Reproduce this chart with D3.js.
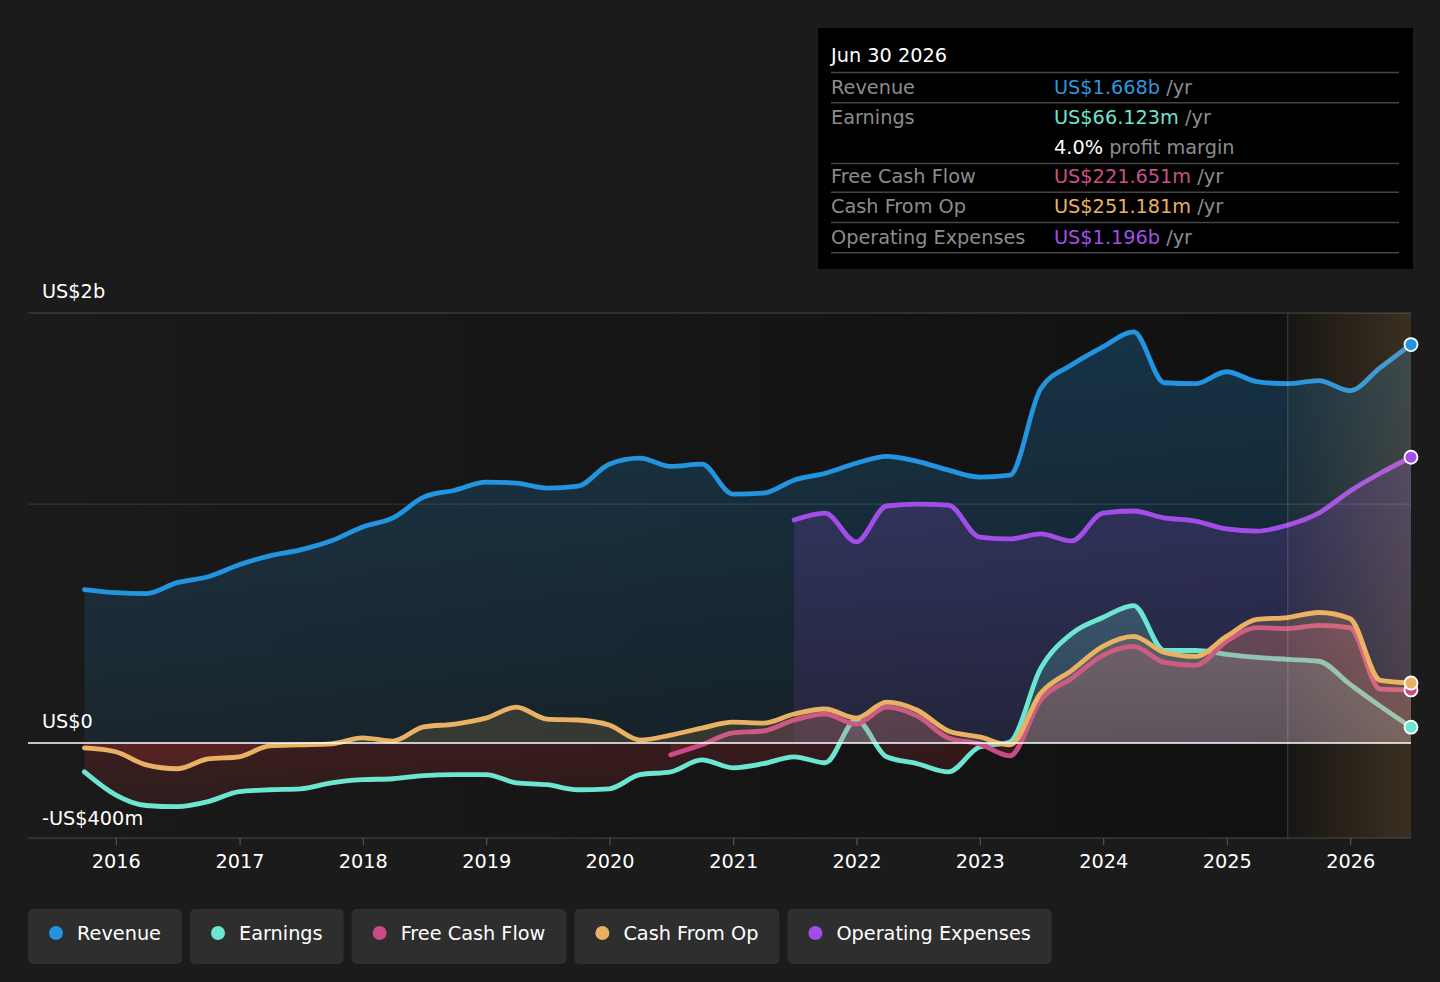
<!DOCTYPE html>
<html>
<head>
<meta charset="utf-8">
<script src="https://cdn.jsdelivr.net/npm/d3@7"></script>
<style>
  body { margin: 0; background: #1b1b1b; }
  svg { display: block; font-family: "DejaVu Sans", sans-serif; }
</style>
</head>
<body>
<svg id="chart" width="1440" height="982"></svg>
<script>
// quarterly periods (trailing twelve months), values in US$ billions
const quarters = [
  "2015-09-30","2015-12-31","2016-03-31","2016-06-30","2016-09-30","2016-12-31",
  "2017-03-31","2017-06-30","2017-09-30","2017-12-31","2018-03-31","2018-06-30",
  "2018-09-30","2018-12-31","2019-03-31","2019-06-30","2019-09-30","2019-12-31",
  "2020-03-31","2020-06-30","2020-09-30","2020-12-31","2021-03-31","2021-06-30",
  "2021-09-30","2021-12-31","2022-03-31","2022-06-30","2022-09-30","2022-12-31",
  "2023-03-31","2023-06-30","2023-09-30","2023-12-31","2024-03-31","2024-06-30",
  "2024-09-30","2024-12-31","2025-03-31","2025-06-30","2025-09-30","2025-12-31",
  "2026-03-31","2026-06-30"
];
const revenue = [
  0.642, 0.629, 0.625, 0.671, 0.696, 0.746, 0.783, 0.808, 0.846, 0.904, 0.942, 1.029,
  1.058, 1.092, 1.088, 1.067, 1.075, 1.167, 1.192, 1.158, 1.167, 1.042, 1.046, 1.100,
  1.129, 1.171, 1.200, 1.179, 1.142, 1.113, 1.121, 1.483, 1.583, 1.658, 1.721, 1.508,
  1.504, 1.554, 1.513, 1.504, 1.517, 1.475, 1.571, 1.668
];
const earnings = [
  -0.121, -0.217, -0.262, -0.267, -0.246, -0.204, -0.196, -0.192, -0.167, -0.154, -0.150, -0.137,
  -0.133, -0.133, -0.167, -0.175, -0.196, -0.192, -0.133, -0.121, -0.071, -0.104, -0.087, -0.058,
  -0.083, 0.096, -0.058, -0.087, -0.121, -0.017, 0.004, 0.312, 0.458, 0.525, 0.575, 0.387,
  0.387, 0.371, 0.358, 0.350, 0.342, 0.246, 0.154, 0.066
];
const freeCashFlow = [
  null, null, null, null, null, null, null, null, null, null, null, null,
  null, null, null, null, null, null, null, -0.050, -0.008, 0.042, 0.050, 0.096,
  0.121, 0.079, 0.150, 0.112, 0.021, -0.004, -0.054, 0.179, 0.271, 0.367, 0.404, 0.337,
  0.325, 0.425, 0.483, 0.479, 0.492, 0.483, 0.225, 0.222
];
const cashFromOp = [
  -0.021, -0.037, -0.092, -0.108, -0.067, -0.058, -0.012, -0.008, -0.004, 0.021, 0.008, 0.067,
  0.079, 0.104, 0.150, 0.100, 0.096, 0.075, 0.012, 0.033, 0.062, 0.087, 0.083, 0.121,
  0.142, 0.104, 0.171, 0.137, 0.050, 0.025, -0.008, 0.208, 0.304, 0.404, 0.446, 0.379,
  0.362, 0.446, 0.517, 0.525, 0.546, 0.521, 0.262, 0.251
];
const operatingExpenses = [
  null, null, null, null, null, null, null, null, null, null, null, null,
  null, null, null, null, null, null, null, null, null, null, null, 0.933,
  0.962, 0.842, 0.992, 1.000, 0.996, 0.862, 0.854, 0.875, 0.846, 0.962, 0.971, 0.942,
  0.929, 0.896, 0.887, 0.912, 0.962, 1.054, 1.129, 1.196
];

const tickYears = [2016, 2017, 2018, 2019, 2020, 2021, 2022, 2023, 2024, 2025, 2026];
const yDomain = [-0.398, 1.8];
const yLabelTop = "US$2b", yLabelZero = "US$0", yLabelBottom = "-US$400m";
const forecastStart = "2025-06-30";

const tipTitle = "Jun 30 2026";
const tipLabels = ["Revenue", "Earnings", "", "Free Cash Flow", "Cash From Op", "Operating Expenses"];
const tipValues = ["US$1.668b", "US$66.123m", "4.0%", "US$221.651m", "US$251.181m", "US$1.196b"];
const tipUnits = [" /yr", " /yr", " profit margin", " /yr", " /yr", " /yr"];

const parse = d3.timeParse("%Y-%m-%d");
const dates = quarters.map(parse);

// draw order: revenue, opex, earnings, fcf, cash from op
const series = [
  {name: "Revenue", values: revenue, color: "#2394df", top: 0.26, bottom: 0.10},
  {name: "Operating Expenses", values: operatingExpenses, color: "#a24de8", top: 0.26, bottom: 0.10},
  {name: "Earnings", values: earnings, color: "#6ce5d1", top: 0.34, bottom: 0.16},
  {name: "Free Cash Flow", values: freeCashFlow, color: "#c84b88", top: 0.34, bottom: 0.16},
  {name: "Cash From Op", values: cashFromOp, color: "#e9b163", top: 0.30, bottom: 0.14}
];
const legendOrder = ["Revenue", "Earnings", "Free Cash Flow", "Cash From Op", "Operating Expenses"];
const tipColors = ["#2f96dc", "#6fe3d1", "#ffffff", "#c8508a", "#e9b264", "#a050e6"];

const plot = {left: 28, right: 1411, top: 313, bottom: 838};
const fontSize = "19.3px";

const svg = d3.select("#chart");
const defs = svg.append("defs");

const x = d3.scaleTime()
    .domain([new Date(2015, 3, 16), parse("2026-06-30")])
    .range([plot.left, plot.right]);
const y = d3.scaleLinear()
    .domain(yDomain)
    .range([plot.bottom, plot.top]);
const xf = x(parse(forecastStart));

// backgrounds
const bgGrad = defs.append("linearGradient").attr("id", "bgGrad")
    .attr("x1", 0).attr("x2", 1).attr("y1", 0).attr("y2", 0);
bgGrad.append("stop").attr("offset", 0).attr("stop-color", "#1a1a1a");
bgGrad.append("stop").attr("offset", 1).attr("stop-color", "#101010");
svg.append("rect")
    .attr("x", plot.left).attr("y", plot.top)
    .attr("width", plot.right - plot.left).attr("height", plot.bottom - plot.top)
    .attr("fill", "url(#bgGrad)");

// grid
svg.append("line")
    .attr("x1", plot.left).attr("x2", plot.right)
    .attr("y1", y(yDomain[1])).attr("y2", y(yDomain[1]))
    .attr("stroke", "#484848").attr("stroke-width", 1.2);
svg.append("line")
    .attr("x1", plot.left).attr("x2", plot.right)
    .attr("y1", y(1)).attr("y2", y(1))
    .attr("stroke", "#333").attr("stroke-width", 1.2);

// clip regions above / below zero
defs.append("clipPath").attr("id", "clipPos").append("rect")
    .attr("x", plot.left).attr("y", plot.top)
    .attr("width", plot.right - plot.left).attr("height", y(0) - plot.top);
defs.append("clipPath").attr("id", "clipNeg").append("rect")
    .attr("x", plot.left).attr("y", y(0))
    .attr("width", plot.right - plot.left).attr("height", plot.bottom - y(0));

const negGrad = defs.append("linearGradient").attr("id", "negGrad")
    .attr("gradientUnits", "userSpaceOnUse")
    .attr("x1", 0).attr("x2", 0).attr("y1", y(0)).attr("y2", plot.bottom);
negGrad.append("stop").attr("offset", 0).attr("stop-color", "#e0383c").attr("stop-opacity", 0.17);
negGrad.append("stop").attr("offset", 1).attr("stop-color", "#e0383c").attr("stop-opacity", 0.07);

const area = d3.area()
    .defined(d => d.v != null)
    .x(d => x(d.date))
    .y0(y(0))
    .y1(d => y(d.v))
    .curve(d3.curveMonotoneX);
const line = d3.line()
    .defined(d => d.v != null)
    .x(d => x(d.date))
    .y(d => y(d.v))
    .curve(d3.curveMonotoneX);

const seriesGroup = svg.append("g");
series.forEach((s, i) => {
  const data = dates.map((date, j) => ({date, v: s.values[j]}));
  const g = defs.append("linearGradient").attr("id", "grad" + i)
      .attr("gradientUnits", "userSpaceOnUse")
      .attr("x1", 0).attr("x2", 0).attr("y1", plot.top).attr("y2", y(0));
  g.append("stop").attr("offset", 0).attr("stop-color", s.color).attr("stop-opacity", s.top);
  g.append("stop").attr("offset", 1).attr("stop-color", s.color).attr("stop-opacity", s.bottom);

  seriesGroup.append("path")
      .datum(data)
      .attr("d", area)
      .attr("fill", `url(#grad${i})`)
      .attr("clip-path", "url(#clipPos)");
  seriesGroup.append("path")
      .datum(data)
      .attr("d", area)
      .attr("fill", "url(#negGrad)")
      .attr("clip-path", "url(#clipNeg)");
  seriesGroup.append("path")
      .datum(data)
      .attr("d", line)
      .attr("fill", "none")
      .attr("stroke", s.color)
      .attr("stroke-width", 4.8)
      .attr("stroke-linejoin", "round")
      .attr("stroke-linecap", "round");
  s.last = data[data.length - 1];
});

// forecast overlay
const fcGrad = defs.append("linearGradient").attr("id", "fcGrad")
    .attr("x1", 0).attr("x2", 1).attr("y1", 0).attr("y2", 0);
fcGrad.append("stop").attr("offset", 0).attr("stop-color", "#ffbe6e").attr("stop-opacity", 0.03);
fcGrad.append("stop").attr("offset", 1).attr("stop-color", "#ffbe6e").attr("stop-opacity", 0.18);
svg.append("rect")
    .attr("x", xf).attr("y", plot.top)
    .attr("width", plot.right - xf).attr("height", plot.bottom - plot.top)
    .attr("fill", "url(#fcGrad)");
svg.append("line")
    .attr("x1", xf).attr("x2", xf)
    .attr("y1", plot.top).attr("y2", plot.bottom)
    .attr("stroke", "#ffffff").attr("stroke-opacity", 0.13).attr("stroke-width", 1.5);

// zero line
svg.append("line")
    .attr("x1", plot.left).attr("x2", plot.right)
    .attr("y1", y(0)).attr("y2", y(0))
    .attr("stroke", "#ffffff").attr("stroke-width", 1.5);

// end points
svg.append("g").selectAll("circle")
  .data(series)
  .join("circle")
    .attr("cx", s => x(s.last.date))
    .attr("cy", s => y(s.last.v))
    .attr("r", 6.5)
    .attr("fill", s => s.color)
    .attr("stroke", "#fff")
    .attr("stroke-width", 1.8);

// x axis
svg.append("line")
    .attr("x1", plot.left).attr("x2", plot.right)
    .attr("y1", plot.bottom).attr("y2", plot.bottom)
    .attr("stroke", "#484848").attr("stroke-width", 1.2);
const xAxis = svg.append("g")
    .attr("transform", `translate(0,${plot.bottom})`)
    .call(d3.axisBottom(x)
        .tickValues(tickYears.map(yr => new Date(yr, 0, 1)))
        .tickFormat(d3.timeFormat("%Y"))
        .tickSize(7)
        .tickPadding(9));
xAxis.select(".domain").remove();
xAxis.selectAll(".tick line").attr("stroke", "#555").attr("stroke-width", 1.2);
xAxis.selectAll(".tick text")
    .attr("fill", "#fff")
    .style("font-size", fontSize)
    .style("font-family", "DejaVu Sans, sans-serif");

// y labels
const yLab = svg.append("g")
    .attr("fill", "#fff")
    .style("font-size", fontSize);
yLab.append("text").attr("x", 42).attr("y", y(yDomain[1]) - 15).text(yLabelTop);
yLab.append("text").attr("x", 42).attr("y", y(0) - 15).text(yLabelZero);
yLab.append("text").attr("x", 42).attr("y", y(yDomain[0]) - 13).text(yLabelBottom);

// tooltip box
const tip = svg.append("g").style("font-size", fontSize);
tip.append("rect")
    .attr("x", 818).attr("y", 28)
    .attr("width", 595).attr("height", 241)
    .attr("fill", "#000");
tip.append("text")
    .attr("x", 831).attr("y", 62)
    .attr("fill", "#fff")
    .text(tipTitle);
const rowH = 30.3;
tip.append("line")
    .attr("x1", 831).attr("x2", 1399)
    .attr("y1", 72.5).attr("y2", 72.5)
    .attr("stroke", "#444").attr("stroke-width", 1.5);
tipLabels.forEach((lab, i) => {
  const top = 72 + i * rowH - (i > 2 ? 1.5 : 0);
  tip.append("text")
      .attr("x", 831).attr("y", top + 21.5)
      .attr("fill", "#8c8c8c")
      .text(lab);
  const t = tip.append("text")
      .attr("x", 1054).attr("y", top + 21.5);
  t.append("tspan").attr("fill", tipColors[i]).text(tipValues[i]);
  t.append("tspan").attr("fill", "#8c8c8c").text(tipUnits[i]);
  if (i !== 1) {
    tip.append("line")
        .attr("x1", 831).attr("x2", 1399)
        .attr("y1", top + rowH + 0.5).attr("y2", top + rowH + 0.5)
        .attr("stroke", "#444").attr("stroke-width", 1.5);
  }
});

// legend
const legend = svg.append("g").style("font-size", fontSize);
let lx = 28;
legendOrder.forEach(name => {
  const s = series.find(d => d.name === name);
  const chip = legend.append("g").attr("transform", `translate(${lx},909)`);
  const bg = chip.append("rect")
      .attr("height", 55).attr("rx", 5)
      .attr("fill", "#2e2e2e");
  chip.append("circle")
      .attr("cx", 28).attr("cy", 24).attr("r", 7)
      .attr("fill", s.color);
  const txt = chip.append("text")
      .attr("x", 49).attr("y", 31)
      .attr("fill", "#fff")
      .text(name);
  const w = txt.node().getComputedTextLength() + 70;
  bg.attr("width", w);
  lx += w + 8;
});
</script>
</body>
</html>
